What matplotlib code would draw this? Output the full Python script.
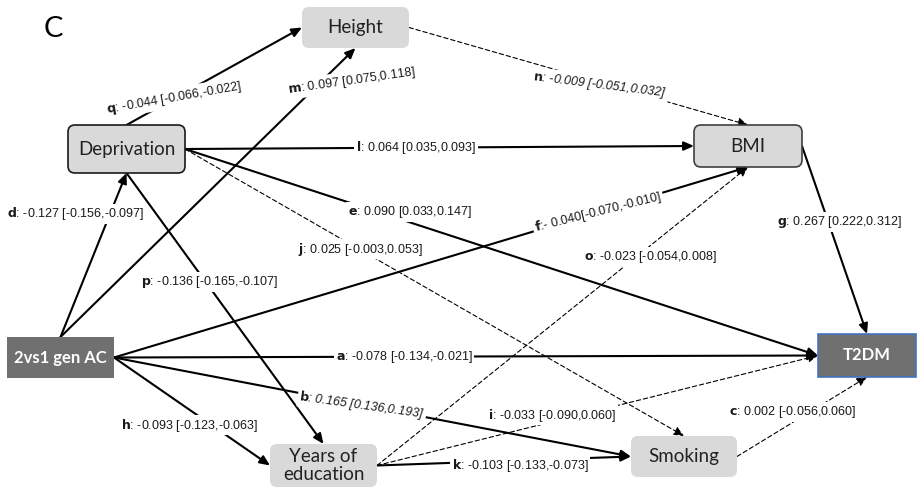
import matplotlib.pyplot as plt
from matplotlib.patches import FancyBboxPatch, FancyArrowPatch

LABEL_FONT = ['Liberation Sans Narrow', 'Liberation Sans', 'DejaVu Sans']
plt.rcParams['mathtext.fontset'] = 'custom'
plt.rcParams['mathtext.rm'] = 'Liberation Sans Narrow'
plt.rcParams['mathtext.bf'] = 'Liberation Sans Narrow:bold'
plt.rcParams['mathtext.it'] = 'Liberation Sans Narrow:italic'

# ---- data ----
nodes = ['Height', 'Deprivation', 'BMI', '2vs1 gen AC', 'T2DM', 'Years of\neducation', 'Smoking']
paths = ['q', 'm', 'n', 'l', 'e', 'j', 'd', 'p', 'f', 'o', 'g', 'a', 'b', 'h', 'i', 'k', 'c']
sources = ['Deprivation', '2vs1 gen AC', 'Height', 'Deprivation', 'Deprivation', 'Deprivation',
           '2vs1 gen AC', 'Deprivation', '2vs1 gen AC', 'Years of\neducation', 'BMI', '2vs1 gen AC',
           '2vs1 gen AC', '2vs1 gen AC', 'Years of\neducation', 'Years of\neducation', 'Smoking']
targets = ['Height', 'Height', 'BMI', 'BMI', 'T2DM', 'Smoking',
           'Deprivation', 'Years of\neducation', 'BMI', 'BMI', 'T2DM', 'T2DM',
           'Smoking', 'Years of\neducation', 'T2DM', 'Smoking', 'T2DM']
estimates = [-0.044, 0.097, -0.009, 0.064, 0.090, 0.025, -0.127, -0.136, -0.040, -0.023, 0.267, -0.078,
             0.165, -0.093, -0.033, -0.103, 0.002]
ci_low = [-0.066, 0.075, -0.051, 0.035, 0.033, -0.003, -0.156, -0.165, -0.070, -0.054, 0.222, -0.134,
          0.136, -0.123, -0.090, -0.133, -0.056]
ci_high = [-0.022, 0.118, 0.032, 0.093, 0.147, 0.053, -0.097, -0.107, -0.010, 0.008, 0.312, -0.021,
           0.193, -0.063, 0.060, -0.073, 0.060]

# ---- layout (pixel coords, y down) ----
boxes = {
    'Height': (302, 7, 409, 48),
    'Deprivation': (68, 125, 185, 173),
    'BMI': (694, 125, 802, 167),
    '2vs1 gen AC': (7, 337, 114, 378),
    'T2DM': (818, 334, 916, 377),
    'Years of\neducation': (270, 444, 377, 487),
    'Smoking': (631, 436, 737, 477),
}
ports = {  # (source side, target side)
    'q': ('top', 'left'), 'm': ('top', 'bottom'), 'n': ('right', 'top'), 'l': ('right', 'left'),
    'e': ('right', 'left'), 'j': ('right', 'top'), 'd': ('top', 'bottom'), 'p': ('bottom', 'top'),
    'f': ('right', 'bottom'), 'o': ('right', 'bottom'), 'g': ('right', 'top'), 'a': ('right', 'left'),
    'b': ('right', 'left'), 'h': ('right', 'left'), 'i': ('right', 'left'), 'k': ('right', 'left'),
    'c': ('right', 'bottom'),
}
label_pos = {  # x, y, rotation
    'q': (174, 98, 10), 'm': (352, 81, 8), 'n': (600, 85, -7), 'l': (416, 148, 0),
    'e': (410, 212, 0), 'j': (360, 249, 0), 'd': (76, 214, 0), 'p': (210, 282, 0),
    'f': (598, 212, 14), 'o': (650, 257, 0), 'g': (839, 222, 0), 'a': (404, 357, 0),
    'b': (362, 405, -8), 'h': (190, 425, 0), 'i': (552, 415, 0), 'k': (520, 465, 0),
    'c': (793, 412, 0),
}
italic = {'b', 'n'}


def port(name, side):
    x0, y0, x1, y1 = boxes[name]
    cx, cy = (x0 + x1) / 2, (y0 + y1) / 2
    return {'top': (cx, y0), 'bottom': (cx, y1), 'left': (x0, cy), 'right': (x1, cy)}[side]


fig = plt.figure(figsize=(9.21, 4.88), dpi=100)
ax = fig.add_axes([0, 0, 1, 1])
ax.set_xlim(0, 921)
ax.set_ylim(488, 0)
ax.axis('off')

ax.text(53, 29, 'C', fontsize=21, family='Lato', ha='center', va='center')

# nodes
styles = {
    'Height': ('#d9d9d9', 'none', True, False),
    'Deprivation': ('#d9d9d9', '#1a1a1a', True, False),
    'BMI': ('#d9d9d9', '#404040', True, False),
    '2vs1 gen AC': ('#707070', 'none', False, True),
    'T2DM': ('#707070', '#4472c4', False, True),
    'Years of\neducation': ('#d9d9d9', 'none', True, False),
    'Smoking': ('#d9d9d9', 'none', True, False),
}
for name in nodes:
    x0, y0, x1, y1 = boxes[name]
    fc, ec, rounded, dark = styles[name]
    bs = 'round,pad=0,rounding_size=7' if rounded else 'square,pad=0'
    ax.add_patch(FancyBboxPatch((x0, y0), x1 - x0, y1 - y0, boxstyle=bs,
                                fc=fc, ec=ec, lw=1.2, zorder=3))
    ax.text((x0 + x1) / 2, (y0 + y1) / 2, name, ha='center', va='center', zorder=4,
            family='Lato', fontsize=13.5 if not dark else 12,
            color='white' if dark else '#222222', weight='bold' if dark else 'normal',
            linespacing=1.05)

# paths
for i, p in enumerate(paths):
    sa, ta = ports[p]
    A = port(sources[i], sa)
    B = port(targets[i], ta)
    sig = not (ci_low[i] < 0 < ci_high[i])
    arr = FancyArrowPatch(A, B, arrowstyle='-|>,head_length=0.5,head_width=0.22', mutation_scale=12,
                          shrinkA=0, shrinkB=0, color='black',
                          lw=1.5 if sig else 0.8, linestyle='-' if sig else (0, (4, 2.5)), zorder=2)
    ax.add_patch(arr)
    if p == 'f':
        txt = r'$\mathbf{f}$:- %.3f[%.3f,%.3f]' % (abs(estimates[i]), ci_low[i], ci_high[i])
    else:
        txt = r'$\mathbf{%s}$: %.3f [%.3f,%.3f]' % (p, estimates[i], ci_low[i], ci_high[i])
    lx, ly, rot = label_pos[p]
    ax.text(lx, ly, txt, ha='center', va='center', rotation=rot, rotation_mode='anchor',
            family=LABEL_FONT, fontsize=9, style='italic' if p in italic else 'normal',
            color='#1a1a1a', zorder=5,
            bbox=dict(boxstyle='square,pad=0.15', fc='white', ec='none'))

fig.savefig('out.png', dpi=100)
